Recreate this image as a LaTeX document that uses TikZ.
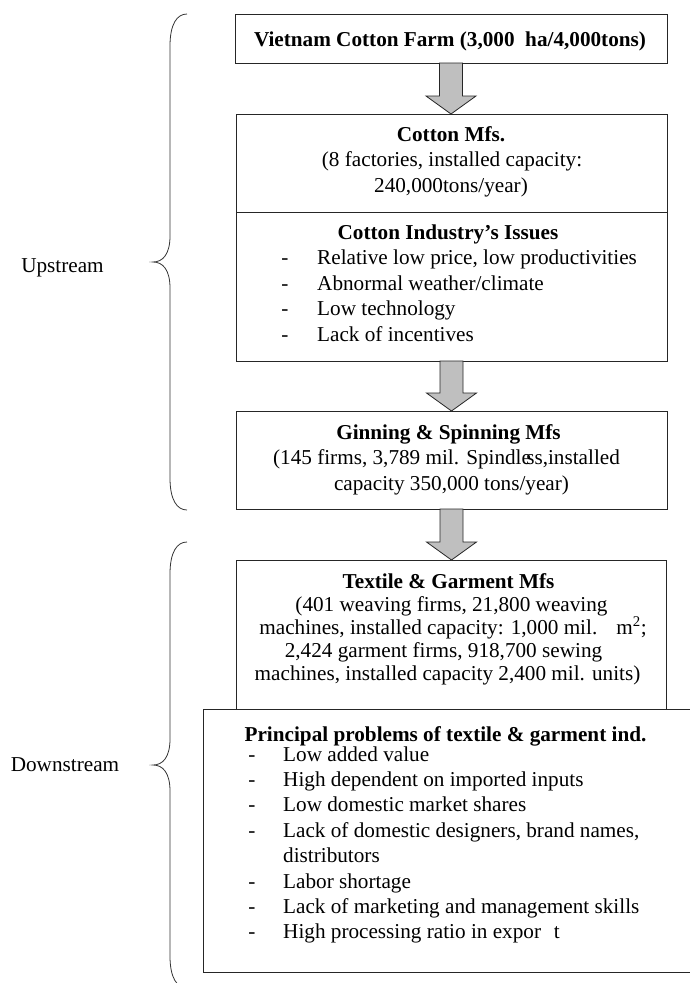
\documentclass[tikz,border=0pt]{standalone}
\usepackage{fontspec}
\setmainfont{Liberation Serif}
\usetikzlibrary{calc}

\tikzset{
  box/.style={draw=black!85, line width=0.9pt, rectangle, inner sep=0pt, outer sep=0pt, anchor=north west},
  boxline/.style={draw=black!85, line width=0.9pt},
  txt/.style={font=\fontsize{21.2pt}{25pt}\selectfont, inner sep=0pt, anchor=base},
  ttl/.style={txt, font=\fontsize{21.2pt}{25pt}\selectfont\bfseries},
  item/.style={txt, anchor=base west},
  dashmark/.style={txt, anchor=base},
  flow/.style={draw=black!85, line width=0.8pt, fill=black!25},
  brace/.style={draw=black!80, line width=0.8pt},
}

% thick grey block arrow from the bottom of one box to the top of the next
\newcommand{\flowarrow}[2]{%
  \path[flow] let \p1=(#1.south), \p2=(#2.north) in
    (\x1-11.5pt,\y1) -- (\x1+11.5pt,\y1) -- (\x1+11.5pt,\y2+18pt)
    -- (\x1+25pt,\y2+18pt) -- (\x1,\y2) -- (\x1-25pt,\y2+18pt)
    -- (\x1-11.5pt,\y2+18pt) -- cycle;}

\begin{document}
\begin{tikzpicture}[x=1pt,y=-1pt]
\useasboundingbox (0,0) rectangle (690,983);

% boxes
\node[box, minimum width=432pt, minimum height=49pt]  (farm) at (235,14)  {};
\node[box, minimum width=431pt, minimum height=247pt] (cot)  at (236,114) {};
\coordinate (div) at (0,212);
\draw[boxline] (cot.west |- div) -- (cot.east |- div);
\node[box, minimum width=431pt, minimum height=98pt]  (gin)  at (236,411) {};
\node[box, minimum width=430pt, minimum height=149pt] (tex)  at (236,560) {};
\node[box, minimum width=492pt, minimum height=263pt] (prob) at (203,709) {};

% block arrows
\flowarrow{farm}{cot}
\flowarrow{cot}{gin}
\flowarrow{gin}{tex}

% farm
\node[ttl] (t-farm) at (450,46) {Vietnam Cotton Farm (3,000\hspace{0.5em}ha/4,000tons)};

% cotton manufacturers
\node[ttl] (t-cot)  at (451,141)   {Cotton Mfs.};
\node[txt] (t-cot1) at (452,166.5) {(8 factories, installed capacity:};
\node[txt] (t-cot2) at (451,192)   {240,000tons/year)};

\node[ttl] (t-iss) at (448,239) {Cotton Industry’s Issues};
\foreach \t [count=\i] in {{Relative low price, low productivities},
                           {Abnormal weather/climate},
                           {Low technology},
                           {Lack of incentives}}{
  \node[dashmark] (d-iss-\i) at (285,{239+25.5*\i}) {-};
  \node[item]     (i-iss-\i) at (317,{239+25.5*\i}) {\t};
}

% ginning and spinning
\node[ttl] (t-gin)  at (448.5,439)   {Ginning \& Spinning Mfs};
\node[txt] (t-gin1) at (446.5,464.5) {(145 firms, 3,789 mil. Spindl\makebox[0.22em][l]{e}ss,installed};
\node[txt] (t-gin2) at (451.5,490)   {capacity 350,000 tons/year)};

% textile and garment
\node[ttl] (t-tex)  at (448.5,588) {Textile \& Garment Mfs};
\node[txt] (t-tex1) at (451.5,611) {(401 weaving firms, 21,800 weaving};
\node[txt] (t-tex2) at (453,634)   {machines, installed capacity: 1,000 mil.\hspace{0.9em}m\textsuperscript{2};};
\node[txt] (t-tex3) at (443.5,657) {2,424 garment firms, 918,700 sewing};
\node[txt] (t-tex4) at (447.5,680) {machines, installed capacity 2,400 mil. units)};

% problems
\node[ttl] (t-prob) at (445.5,741) {Principal problems of textile \& garment ind.};
\node[dashmark] (d-p1) at (252,761)   {-};
\node[item]     (i-p1) at (283,761)   {Low added value};
\node[dashmark] (d-p2) at (252,786.4) {-};
\node[item]     (i-p2) at (283,786.4) {High dependent on imported inputs};
\node[dashmark] (d-p3) at (252,811.8) {-};
\node[item]     (i-p3) at (283,811.8) {Low domestic market shares};
\node[dashmark] (d-p4) at (252,837.2) {-};
\node[item]     (i-p4) at (283,837.2) {Lack of domestic designers, brand names,};
\node[item]     (i-p4b) at (283,862.6) {distributors};
\node[dashmark] (d-p5) at (252,888)   {-};
\node[item]     (i-p5) at (283,888)   {Labor shortage};
\node[dashmark] (d-p6) at (252,913.4) {-};
\node[item]     (i-p6) at (283,913.4) {Lack of marketing and management skills};
\node[dashmark] (d-p7) at (252,938.8) {-};
\node[item]     (i-p7) at (283,938.8) {High processing ratio in expor\hspace{0.6em}t};

% braces and stage labels
\draw[brace] (187,14) .. controls (177,14) and (170,24) .. (170,46)
  -- (170,236) .. controls (170,254) and (163,262) .. (153,262)
  .. controls (163,262) and (170,270) .. (170,288)
  -- (170,478) .. controls (170,500) and (177,510) .. (187,510);
\draw[brace] (187,542) .. controls (177,542) and (170,552) .. (170,574)
  -- (170,739) .. controls (170,757) and (163,765) .. (153,765)
  .. controls (163,765) and (170,773) .. (170,791)
  -- (170,956) .. controls (170,978) and (177,988) .. (187,988);

\node[txt] (l-up)   at (62.5,272) {Upstream};
\node[txt] (l-down) at (65,771)   {Downstream};
\end{tikzpicture}
\end{document}
